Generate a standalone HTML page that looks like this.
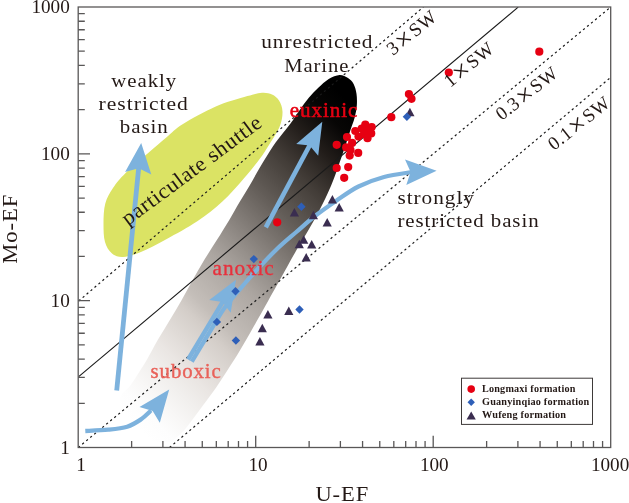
<!DOCTYPE html>
<html lang="en"><head><meta charset="utf-8"><title>Mo-EF vs U-EF</title>
<style>html,body{margin:0;padding:0;background:#fff;}body{width:629px;height:503px;overflow:hidden;}svg{display:block;}text{font-family:"Liberation Serif",serif;}</style>
</head><body>
<svg width="629" height="503" viewBox="0 0 629 503">
<defs>
<linearGradient id="bandg" gradientUnits="userSpaceOnUse" x1="105.0" y1="395.0" x2="373.7" y2="126.3">
<stop offset="0.000" stop-color="#ffffff"/>
<stop offset="0.045" stop-color="#fdfdfd"/>
<stop offset="0.092" stop-color="#f8f7f6"/>
<stop offset="0.145" stop-color="#f1efed"/>
<stop offset="0.197" stop-color="#eae6e3"/>
<stop offset="0.308" stop-color="#d4cec9"/>
<stop offset="0.350" stop-color="#c4beb9"/>
<stop offset="0.461" stop-color="#aca6a1"/>
<stop offset="0.545" stop-color="#8f8984"/>
<stop offset="0.671" stop-color="#625c57"/>
<stop offset="0.771" stop-color="#433d38"/>
<stop offset="0.861" stop-color="#211c19"/>
<stop offset="0.934" stop-color="#070605"/>
<stop offset="1.000" stop-color="#000000"/>
</linearGradient>
<clipPath id="plotclip"><rect x="78.2" y="7.0" width="532.5" height="440.5"/></clipPath>
</defs>
<rect x="0" y="0" width="629" height="503" fill="#ffffff"/>
<path d="M262.0,92.7 C266.1,92.4 269.2,93.2 272.0,94.5 C274.8,95.8 277.2,97.6 279.0,100.5 C280.8,103.4 282.4,107.4 282.5,111.8 C282.6,116.2 281.9,121.2 279.5,127.0 C277.1,132.8 271.2,141.2 268.0,146.5 C264.8,151.8 264.0,153.2 260.0,158.5 C256.0,163.8 250.1,171.4 243.8,178.6 C237.5,185.8 230.2,194.5 222.4,201.6 C214.7,208.7 206.7,215.0 197.3,221.3 C188.0,227.6 175.7,234.1 166.3,239.2 C156.9,244.3 148.1,249.0 140.9,252.0 C133.7,255.0 127.8,256.8 123.0,257.0 C118.2,257.2 115.0,256.0 112.0,253.5 C109.0,251.0 106.4,246.9 105.0,242.0 C103.6,237.1 103.5,230.4 103.5,224.0 C103.5,217.6 103.7,209.6 105.3,203.6 C106.9,197.6 109.6,193.1 113.0,188.0 C116.4,182.9 119.7,178.9 125.6,173.0 C131.5,167.1 141.7,158.6 148.5,152.7 C155.3,146.8 160.6,142.3 166.3,137.5 C172.1,132.7 174.8,129.1 183.0,124.0 C191.2,118.9 204.5,111.5 215.2,106.8 C225.9,102.1 239.6,98.4 247.4,96.1 C255.2,93.8 257.9,93.0 262.0,92.7Z" fill="#dbe364"/>
<path d="M339.6,74.9 C342.8,74.8 345.7,76.5 348.0,78.0 C350.3,79.5 352.2,81.3 353.6,83.9 C355.0,86.5 356.0,90.2 356.5,93.8 C357.0,97.4 357.1,101.7 356.8,105.7 C356.5,109.7 355.6,113.7 354.6,117.7 C353.6,121.7 352.0,125.4 350.6,129.6 C349.2,133.8 347.9,138.3 346.3,143.0 C344.8,147.7 343.3,152.1 341.3,157.8 C339.3,163.5 336.7,171.3 334.4,177.3 C332.1,183.3 330.4,187.5 327.4,194.0 C324.4,200.5 320.3,208.9 316.3,216.3 C312.3,223.7 306.8,232.9 303.5,238.5 C300.2,244.1 299.1,245.4 296.5,250.0 C293.9,254.6 290.7,260.3 287.6,265.9 C284.5,271.5 281.0,277.8 277.7,283.8 C274.4,289.8 270.8,296.1 267.7,301.7 C264.6,307.3 261.8,312.3 258.8,317.6 C255.8,322.9 253.1,327.8 249.8,333.5 C246.5,339.2 242.4,346.4 239.0,352.0 C235.6,357.6 233.2,361.2 229.5,367.0 C225.8,372.8 220.8,380.8 216.5,387.0 C212.2,393.2 208.1,398.5 204.0,404.0 C199.9,409.5 196.0,415.1 192.0,420.2 C188.0,425.3 184.0,430.9 180.0,434.5 C176.0,438.1 173.0,441.1 168.0,442.0 C163.0,442.9 156.0,443.0 150.0,440.0 C144.0,437.0 137.0,430.7 132.0,424.0 C127.0,417.3 120.3,406.3 120.0,400.0 C119.7,393.7 127.2,390.1 130.0,386.0 C132.8,381.9 134.2,379.8 137.0,375.4 C139.8,371.0 143.5,365.5 147.0,359.5 C150.5,353.5 154.2,346.2 158.0,339.6 C161.8,333.0 166.1,326.4 170.0,319.8 C173.9,313.2 177.9,306.6 181.7,300.0 C185.5,293.4 188.9,286.7 192.7,280.0 C196.5,273.3 200.4,266.3 204.5,259.6 C208.6,252.9 212.9,246.4 217.0,239.8 C221.1,233.2 225.5,226.2 229.3,219.9 C233.1,213.6 236.2,207.7 239.6,202.0 C243.0,196.3 246.0,191.7 249.5,185.7 C253.0,179.7 256.7,172.7 260.6,166.2 C264.5,159.7 269.0,152.2 272.7,146.7 C276.4,141.2 280.0,136.8 283.0,133.0 C286.0,129.2 287.7,127.5 290.5,123.6 C293.3,119.7 296.8,114.0 299.9,109.7 C302.9,105.4 305.7,101.5 308.8,97.8 C311.9,94.1 315.0,90.9 318.3,87.8 C321.6,84.7 325.1,81.1 328.7,78.9 C332.2,76.8 336.4,75.1 339.6,74.9Z" fill="url(#bandg)"/>
<g clip-path="url(#plotclip)" fill="none" stroke="#1a1a1a">
<line x1="78.7" y1="301" x2="423.3" y2="7.1" stroke-width="1.2" stroke-dasharray="2.2 3.0"/>
<line x1="78.7" y1="376.6" x2="518.2" y2="7.1" stroke-width="1.1"/>
<line x1="78.2" y1="447.5" x2="610.5" y2="7.2" stroke-width="1.2" stroke-dasharray="2.2 3.0"/>
<line x1="169.5" y1="447.5" x2="610.5" y2="77.5" stroke-width="1.2" stroke-dasharray="2.2 3.0"/>
</g>
<g fill="#7db2dd" stroke="none">
<path d="M116.7,390.6 L138.8,166.8" stroke="#7db2dd" stroke-width="4.8" fill="none"/>
<path d="M141.2,142.9 L151.3,174.6 L138.7,168.3 L125.1,172.0 Z"/>
<path d="M265.8,227.4 L311.0,142.9" stroke="#7db2dd" stroke-width="4.6" fill="none"/>
<path d="M322.3,121.7 L318.2,155.8 L309.6,145.5 L296.2,144.0 Z"/>
<path d="M188.1,359.5 L223.6,300.4" stroke="#7db2dd" stroke-width="4.4" fill="none"/>
<path d="M236.0,279.8 L230.7,312.8 L222.6,302.1 L209.3,299.9 Z"/>
<path d="M191.8,361.7 C194.5,357.3 202.7,343.5 207.8,335.1 C212.9,326.7 218.7,316.8 222.3,311.2 C225.9,305.6 227.1,304.6 229.5,301.5 C231.9,298.4 234.3,295.7 237.0,292.5 C239.7,289.3 242.8,285.8 245.6,282.5 C248.4,279.2 248.9,278.5 254.0,273.0 C259.1,267.5 269.1,256.5 276.2,249.7 C283.2,242.9 289.8,237.6 296.3,232.0 C302.8,226.4 308.4,221.1 315.0,216.0 C321.6,210.9 328.4,206.1 335.6,201.2 C342.9,196.3 350.4,190.5 358.5,186.5 C366.6,182.5 375.1,179.4 384.0,177.0 C392.9,174.6 407.3,172.8 412.0,172.0" stroke="#7db2dd" stroke-width="4.2" fill="none"/>
<path d="M436.6,170.7 L406.3,185.1 L410.6,172.0 L405.0,159.5 Z"/>
<path d="M85.3,431.0 C89.1,430.8 101.2,430.4 108.2,429.7 C115.2,429.0 121.8,428.4 127.2,426.7 C132.6,425.0 136.6,422.3 140.6,419.6 C144.6,416.9 149.3,412.0 151.0,410.5" stroke="#7db2dd" stroke-width="4.3" fill="none"/>
<path d="M169.2,389.6 L159.8,422.7 L152.7,411.0 L139.5,407.1 Z"/>
</g>
<g fill="#3a2d50">
<path d="M409.9,107.8 L414.5,116.3 L405.3,116.3 Z"/>
<path d="M294.4,208.1 L299.0,216.6 L289.8,216.6 Z"/>
<path d="M313.4,210.8 L318.0,219.3 L308.8,219.3 Z"/>
<path d="M332.4,194.9 L337.0,203.4 L327.8,203.4 Z"/>
<path d="M339.2,203.1 L343.8,211.6 L334.6,211.6 Z"/>
<path d="M327.2,218.0 L331.8,226.5 L322.6,226.5 Z"/>
<path d="M303.7,235.2 L308.3,243.7 L299.1,243.7 Z"/>
<path d="M299.3,239.7 L303.9,248.2 L294.7,248.2 Z"/>
<path d="M311.7,240.1 L316.3,248.6 L307.1,248.6 Z"/>
<path d="M306.2,253.1 L310.8,261.6 L301.6,261.6 Z"/>
<path d="M267.9,310.0 L272.5,318.5 L263.3,318.5 Z"/>
<path d="M288.8,306.5 L293.4,315.0 L284.2,315.0 Z"/>
<path d="M262.3,323.8 L266.9,332.3 L257.7,332.3 Z"/>
<path d="M259.9,336.9 L264.5,345.4 L255.3,345.4 Z"/>
</g>
<g fill="#2e5fb8">
<path d="M406.9,112.6 L411.1,116.8 L406.9,121.0 L402.7,116.8 Z"/>
<path d="M301.4,202.6 L305.6,206.8 L301.4,211.0 L297.2,206.8 Z"/>
<path d="M253.8,254.9 L258.0,259.1 L253.8,263.3 L249.6,259.1 Z"/>
<path d="M235.5,287.1 L239.7,291.3 L235.5,295.5 L231.3,291.3 Z"/>
<path d="M216.9,317.7 L221.1,321.9 L216.9,326.1 L212.7,321.9 Z"/>
<path d="M235.9,336.3 L240.1,340.5 L235.9,344.7 L231.7,340.5 Z"/>
<path d="M299.5,305.3 L303.7,309.5 L299.5,313.7 L295.3,309.5 Z"/>
</g>
<g fill="#e60012">
<circle cx="539.3" cy="51.7" r="4.1"/>
<circle cx="448.8" cy="72.5" r="4.1"/>
<circle cx="408.9" cy="94.1" r="4.1"/>
<circle cx="411.5" cy="98.8" r="4.1"/>
<circle cx="391.3" cy="117.2" r="4.1"/>
<circle cx="365.3" cy="124.6" r="4.1"/>
<circle cx="371.7" cy="127.0" r="4.1"/>
<circle cx="361.7" cy="128.6" r="4.1"/>
<circle cx="355.3" cy="131.0" r="4.1"/>
<circle cx="367.2" cy="131.0" r="4.1"/>
<circle cx="371.2" cy="133.4" r="4.1"/>
<circle cx="358.5" cy="136.6" r="4.1"/>
<circle cx="364.0" cy="134.2" r="4.1"/>
<circle cx="367.5" cy="138.2" r="4.1"/>
<circle cx="347.0" cy="137.0" r="4.1"/>
<circle cx="352.1" cy="142.9" r="4.1"/>
<circle cx="336.7" cy="144.8" r="4.1"/>
<circle cx="346.2" cy="147.4" r="4.1"/>
<circle cx="350.5" cy="150.0" r="4.1"/>
<circle cx="358.2" cy="152.9" r="4.1"/>
<circle cx="349.7" cy="155.6" r="4.1"/>
<circle cx="336.7" cy="168.0" r="4.1"/>
<circle cx="348.2" cy="167.1" r="4.1"/>
<circle cx="344.2" cy="177.8" r="4.1"/>
<circle cx="277.2" cy="222.3" r="4.1"/>
</g>
<g stroke="#595757" stroke-width="1.3" fill="none">
<rect x="78.2" y="7.0" width="532.5" height="440.5"/>
<path d="M78.2,403.30h6.6M131.63,447.5v-6.6M78.2,377.44h6.6M162.89,447.5v-6.6M78.2,359.10h6.6M185.07,447.5v-6.6M78.2,344.87h6.6M202.27,447.5v-6.6M78.2,333.24h6.6M216.32,447.5v-6.6M78.2,323.41h6.6M228.20,447.5v-6.6M78.2,314.90h6.6M238.50,447.5v-6.6M78.2,307.39h6.6M247.58,447.5v-6.6M78.2,300.67h11.8M255.70,447.5v-11.8M78.2,256.47h6.6M309.13,447.5v-6.6M78.2,230.61h6.6M340.39,447.5v-6.6M78.2,212.26h6.6M362.57,447.5v-6.6M78.2,198.03h6.6M379.77,447.5v-6.6M78.2,186.41h6.6M393.82,447.5v-6.6M78.2,176.58h6.6M405.70,447.5v-6.6M78.2,168.06h6.6M416.00,447.5v-6.6M78.2,160.55h6.6M425.08,447.5v-6.6M78.2,153.83h11.8M433.20,447.5v-11.8M78.2,109.63h6.6M486.63,447.5v-6.6M78.2,83.78h6.6M517.89,447.5v-6.6M78.2,65.43h6.6M540.07,447.5v-6.6M78.2,51.20h6.6M557.27,447.5v-6.6M78.2,39.57h6.6M571.32,447.5v-6.6M78.2,29.74h6.6M583.20,447.5v-6.6M78.2,21.23h6.6M593.50,447.5v-6.6M78.2,13.72h6.6M602.58,447.5v-6.6"/>
</g>
<text x="31.4" y="13.2" font-size="18" fill="#231815" textLength="38.4" lengthAdjust="spacingAndGlyphs" letter-spacing="0">1000</text>
<text x="41.0" y="160.0" font-size="18" fill="#231815" textLength="28.8" lengthAdjust="spacingAndGlyphs" letter-spacing="0">100</text>
<text x="50.6" y="306.9" font-size="18" fill="#231815" textLength="19.2" lengthAdjust="spacingAndGlyphs" letter-spacing="0">10</text>
<text x="60.2" y="453.7" font-size="18" fill="#231815" textLength="9.6" lengthAdjust="spacingAndGlyphs" letter-spacing="0">1</text>
<text x="76.2" y="471.4" font-size="18" fill="#231815" textLength="9.6" lengthAdjust="spacingAndGlyphs" letter-spacing="0">1</text>
<text x="248.4" y="471.4" font-size="18" fill="#231815" textLength="19.2" lengthAdjust="spacingAndGlyphs" letter-spacing="0">10</text>
<text x="419.9" y="471.4" font-size="18" fill="#231815" textLength="28.8" lengthAdjust="spacingAndGlyphs" letter-spacing="0">100</text>
<text x="590.9" y="471.4" font-size="18" fill="#231815" textLength="38.4" lengthAdjust="spacingAndGlyphs" letter-spacing="0">1000</text>
<text x="315.4" y="501.4" font-size="22" fill="#231815" textLength="53.8" lengthAdjust="spacingAndGlyphs" letter-spacing="0.9">U-EF</text>
<text x="16.9" y="263.8" font-size="22" fill="#231815" textLength="70.0" lengthAdjust="spacingAndGlyphs" letter-spacing="0.9" transform="rotate(-90.00 16.9 263.8)">Mo-EF</text>
<text x="111.2" y="86.7" font-size="19.5" fill="#231815" textLength="66.0" lengthAdjust="spacingAndGlyphs" letter-spacing="0.9">weakly</text>
<text x="98.6" y="109.6" font-size="19.5" fill="#231815" textLength="90.2" lengthAdjust="spacingAndGlyphs" letter-spacing="0.9">restricted</text>
<text x="119.8" y="132.5" font-size="19.5" fill="#231815" textLength="49.0" lengthAdjust="spacingAndGlyphs" letter-spacing="0.9">basin</text>
<text x="261.2" y="47.5" font-size="19.5" fill="#231815" textLength="112.3" lengthAdjust="spacingAndGlyphs" letter-spacing="0.9">unrestricted</text>
<text x="284.2" y="71.7" font-size="19.5" fill="#231815" textLength="65.2" lengthAdjust="spacingAndGlyphs" letter-spacing="0.9">Marine</text>
<text x="397.4" y="204.3" font-size="19.5" fill="#231815" textLength="77.5" lengthAdjust="spacingAndGlyphs" letter-spacing="0.9">strongly</text>
<text x="397.4" y="227.2" font-size="19.5" fill="#231815" textLength="142.2" lengthAdjust="spacingAndGlyphs" letter-spacing="0.9">restricted basin</text>
<text x="289.8" y="117.2" font-size="21" fill="#e60012" textLength="68.4" lengthAdjust="spacingAndGlyphs" letter-spacing="0.9" stroke="#e60012" stroke-width="0.55">euxinic</text>
<text x="212.6" y="274.8" font-size="21.5" fill="#e8303c" textLength="62.0" lengthAdjust="spacingAndGlyphs" letter-spacing="0.9" stroke="#e8303c" stroke-width="0.35">anoxic</text>
<text x="150.6" y="378.0" font-size="21.5" fill="#e9625a" textLength="71.0" lengthAdjust="spacingAndGlyphs" letter-spacing="0.9" stroke="#e9625a" stroke-width="0.4">suboxic</text>
<text x="127.8" y="226.0" font-size="21.3" fill="#231815" textLength="169.1" lengthAdjust="spacingAndGlyphs" letter-spacing="0.5" transform="rotate(-36.50 127.8 226.0)">particulate shuttle</text>
<g transform="translate(393.0 56.1) rotate(-39.50)" fill="#231815">
<text x="0.00" y="0" font-size="19.0">3</text>
<text x="19.20" y="2.9" font-size="28" text-anchor="middle">×</text>
<text x="28.90" y="0" font-size="19.0">S</text>
<text x="40.16" y="0" font-size="19.0">W</text>
</g>
<g transform="translate(450.3 87.9) rotate(-39.50)" fill="#231815">
<text x="0.00" y="0" font-size="19.0">1</text>
<text x="19.20" y="2.9" font-size="28" text-anchor="middle">×</text>
<text x="28.90" y="0" font-size="19.0">S</text>
<text x="40.16" y="0" font-size="19.0">W</text>
</g>
<g transform="translate(501.7 121.1) rotate(-38.50)" fill="#231815">
<text x="0.00" y="0" font-size="19.0">0</text>
<text x="9.90" y="0" font-size="19.0">.</text>
<text x="15.05" y="0" font-size="19.0">3</text>
<text x="34.25" y="2.9" font-size="28" text-anchor="middle">×</text>
<text x="43.95" y="0" font-size="19.0">S</text>
<text x="55.21" y="0" font-size="19.0">W</text>
</g>
<g transform="translate(554.1 150.9) rotate(-38.50)" fill="#231815">
<text x="0.00" y="0" font-size="19.0">0</text>
<text x="9.90" y="0" font-size="19.0">.</text>
<text x="15.05" y="0" font-size="19.0">1</text>
<text x="34.25" y="2.9" font-size="28" text-anchor="middle">×</text>
<text x="43.95" y="0" font-size="19.0">S</text>
<text x="55.21" y="0" font-size="19.0">W</text>
</g>
<rect x="461.5" y="378.2" width="131" height="46.2" fill="#ffffff" stroke="#3e3a39" stroke-width="1"/>
<circle cx="471.2" cy="389.1" r="3.8" fill="#e60012"/>
<path d="M471.2,398.6 L474.9,402.3 L471.2,406 L467.5,402.3 Z" fill="#2e5fb8"/>
<path d="M471.2,411.6 L475.8,419.4 L466.6,419.4 Z" fill="#3a2d50"/>
<text x="482.0" y="391.6" font-size="10.5" fill="#231815" textLength="93.6" lengthAdjust="spacingAndGlyphs" letter-spacing="0.2" font-weight="bold">Longmaxi formation</text>
<text x="482.0" y="405.1" font-size="10.5" fill="#231815" textLength="107.4" lengthAdjust="spacingAndGlyphs" letter-spacing="0.2" font-weight="bold">Guanyinqiao formation</text>
<text x="482.0" y="418.3" font-size="10.5" fill="#231815" textLength="84.2" lengthAdjust="spacingAndGlyphs" letter-spacing="0.2" font-weight="bold">Wufeng formation</text>
</svg>
</body></html>
